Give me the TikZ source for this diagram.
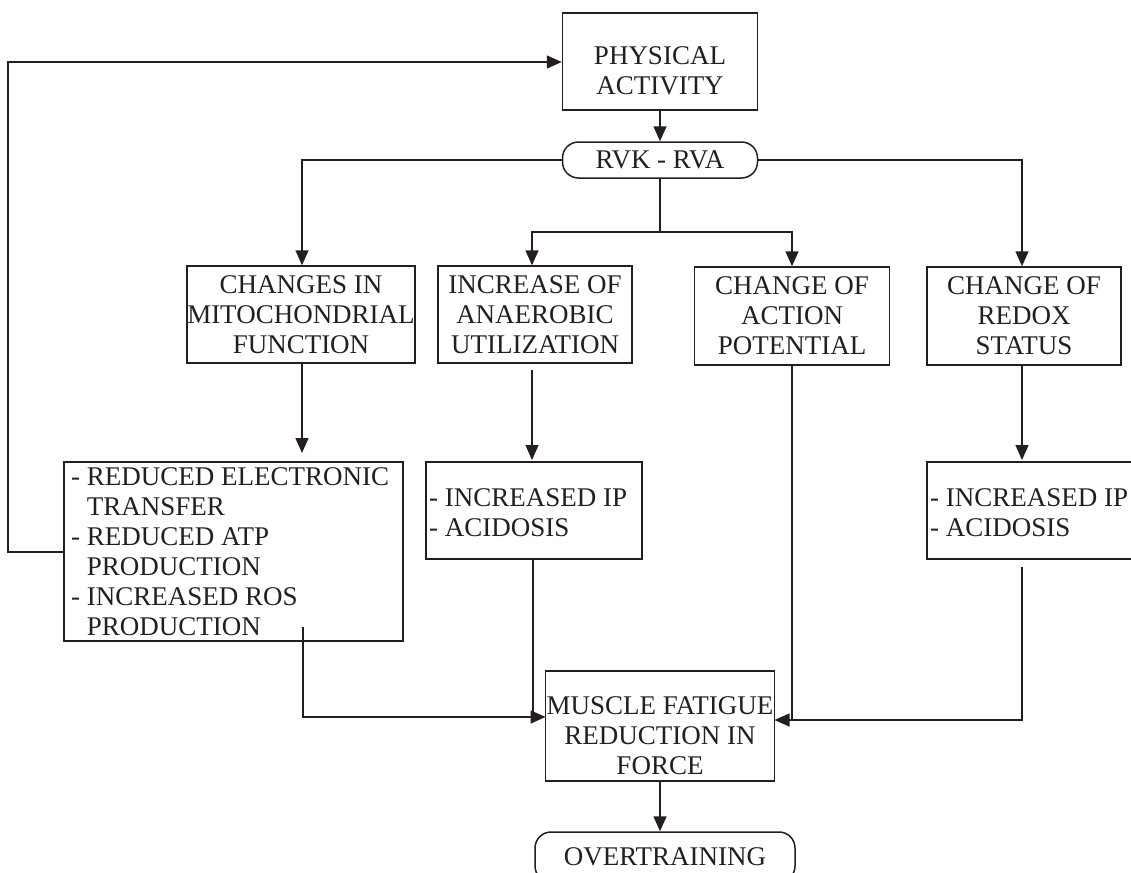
\documentclass[tikz,border=0pt]{standalone}
\usepackage{fontspec}
\setmainfont{Liberation Serif}
\usetikzlibrary{arrows.meta}
\definecolor{ink}{HTML}{231F20}
\begin{document}
\begin{tikzpicture}[x=1pt,y=-1pt,
  every node/.style={font=\fontsize{27}{30}\selectfont, text=ink, inner sep=0pt},
  box/.style={draw=ink, line width=1.5pt, rectangle},
  rbox/.style={box, rounded corners=16pt},
  conn/.style={draw=ink, line width=1.5pt},
  arr/.style={conn, -{Triangle[length=15pt,width=13pt]}},
]
\useasboundingbox (0,0) rectangle (1131,872);
\clip (0,0) rectangle (1131,872);

% top
\node[box, minimum width=195pt, minimum height=97pt] (pa) at (660,61.5) {};
\node[align=center] (paT) at (660,70.5) {PHYSICAL\\ACTIVITY};
\node[rbox, minimum width=195pt, minimum height=36pt] (rvk) at (660,160) {RVK - RVA};

% row 2
\node[box, minimum width=228pt, minimum height=97pt, align=center] (mito) at (301,314.5) {CHANGES IN\\MITOCHONDRIAL\\FUNCTION};
\node[box, minimum width=194pt, minimum height=97pt, align=center] (anae) at (535,314.5) {INCREASE OF\\ANAEROBIC\\UTILIZATION};
\node[box, minimum width=195pt, minimum height=98pt, align=center] (act) at (792,316) {CHANGE OF\\ACTION\\POTENTIAL};
\node[box, minimum width=194pt, minimum height=98pt, align=center] (redox) at (1024,316) {CHANGE OF\\REDOX\\STATUS};

% row 3
\node[box, minimum width=339pt, minimum height=179pt] (ll) at (233.5,551.5) {};
\node[align=left, anchor=west] (llT) at (71,552) {- REDUCED ELECTRONIC\\\hphantom{- }TRANSFER\\- REDUCED ATP\\\hphantom{- }PRODUCTION\\- INCREASED ROS\\\hphantom{- }PRODUCTION};
\node[box, minimum width=216pt, minimum height=97pt] (ml) at (534,510.5) {};
\node[align=left, anchor=west] (mlT) at (429,513) {- INCREASED IP\\- ACIDOSIS};
\node[box, minimum width=213pt, minimum height=97pt] (rl) at (1033.5,510.5) {};
\node[align=left, anchor=west] (rlT) at (930,513) {- INCREASED IP\\- ACIDOSIS};

% bottom
\node[box, minimum width=229pt, minimum height=110pt] (mus) at (660,726) {};
\node[align=center] (musT) at (660,736) {MUSCLE FATIGUE\\REDUCTION IN\\FORCE};
\node[rbox, minimum width=260pt, minimum height=50pt] (ot) at (665,857) {OVERTRAINING};

% helper coordinates
\coordinate (split) at (660,232);
\coordinate (llIn) at (302,453);
\coordinate (anOut) at (532,370);
\coordinate (mlIn) at (532,460);
\coordinate (rlIn) at (1022,460);
\coordinate (llOut) at (303,627);
\coordinate (rlOut) at (1022,567);
\coordinate (mL) at (545.5,717);
\coordinate (mR) at (774.5,720);
\coordinate (fbA) at (64,552);
\coordinate (fbC) at (8,62);

% connectors
\draw[arr] (pa.south) -- (pa.south |- rvk.north);
\draw[arr] (rvk.west) -| ([xshift=1pt]mito.north);
\draw[arr] (rvk.east) -| ([xshift=-2pt]redox.north);
\draw[conn] (rvk.south) -- (split);
\draw[arr] (split) -| ([xshift=-3pt]anae.north);
\draw[arr] (split) -| (act.north);

\draw[arr] ([xshift=1pt]mito.south) -- (llIn);
\draw[arr] (anOut) -- (mlIn);
\draw[arr] ([xshift=-2pt]redox.south) -- (rlIn);

\draw[arr] (llOut) |- (mL);
\draw[conn] ([xshift=-1pt]ml.south) -- ([xshift=-1pt]ml.south |- mL);
\draw[arr] (act.south) |- (mR);
\draw[conn] (rlOut) |- (act.south |- mR);

\draw[arr] (mus.south) -- (mus.south |- ot.north);

\draw[arr] (fbA) -| (fbC) -- (pa.west |- fbC);
\end{tikzpicture}
\end{document}
